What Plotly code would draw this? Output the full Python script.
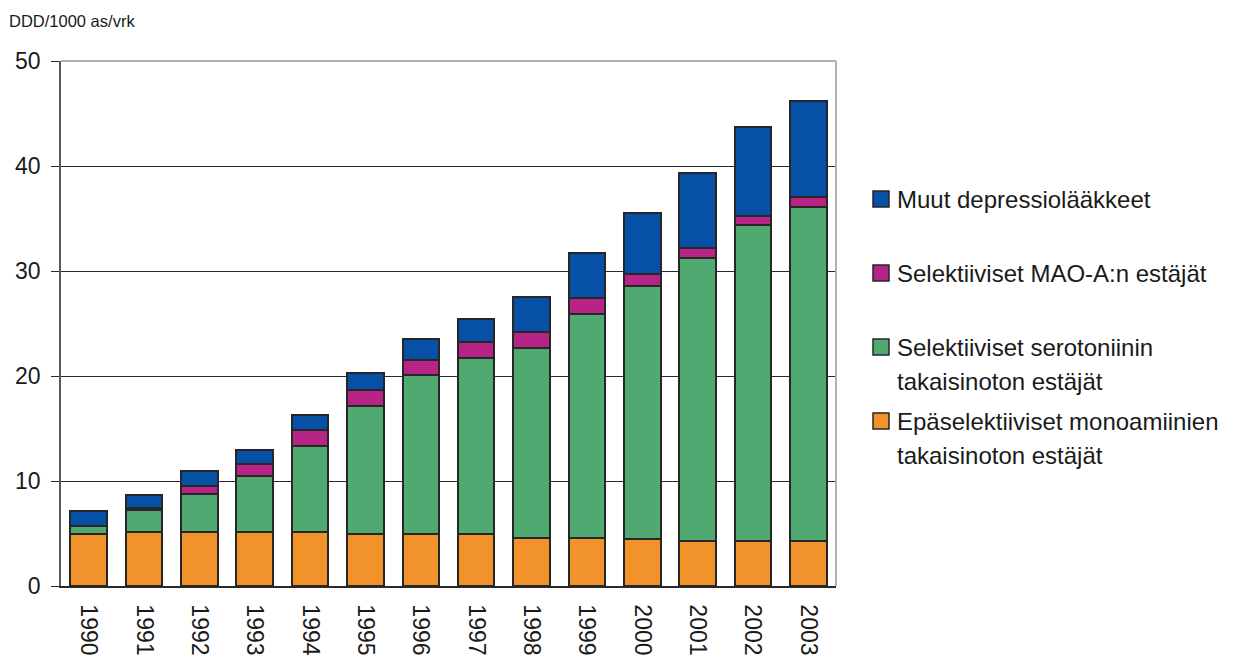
import plotly.graph_objects as go

# DDD/1000 asukasta/vrk, depressiolääkkeiden kulutus 1990–2003
years = ["1990", "1991", "1992", "1993", "1994", "1995", "1996",
         "1997", "1998", "1999", "2000", "2001", "2002", "2003"]

epaselektiiviset = [5.0, 5.15, 5.15, 5.15, 5.15, 5.0, 5.0,
                    4.95, 4.6, 4.55, 4.45, 4.25, 4.25, 4.25]
ssri = [0.7, 2.05, 3.6, 5.3, 8.2, 12.15, 15.05,
        16.8, 18.1, 21.4, 24.15, 27.0, 30.1, 31.85]
mao_a = [0.05, 0.2, 0.8, 1.15, 1.55, 1.55, 1.5,
         1.5, 1.5, 1.5, 1.15, 0.95, 0.9, 0.95]
muut = [1.4, 1.3, 1.4, 1.4, 1.4, 1.6, 1.95,
        2.15, 3.3, 4.25, 5.8, 7.1, 8.45, 9.15]

series_names = [
    ["Epäselektiiviset monoamiinien", "takaisinoton estäjät"],
    ["Selektiiviset serotoniinin", "takaisinoton estäjät"],
    ["Selektiiviset MAO-A:n estäjät"],
    ["Muut depressiolääkkeet"],
]
series_values = [epaselektiiviset, ssri, mao_a, muut]
series_colors = ["#F2922A", "#50A971", "#B82386", "#0651A5"]

y_ticks = [0, 10, 20, 30, 40, 50]

FONT = "Liberation Sans, Arial, sans-serif"
W, H = 1252, 660
L, R, T, B = 61, 836, 61, 586  # plot area in pixels


def px_x(px):
    return (px - L) / (R - L)


def px_y(py):
    return (B - py) / (B - T)


fig = go.Figure()
for names, vals, col in zip(series_names, series_values, series_colors):
    fig.add_trace(go.Bar(
        x=years, y=vals, name=" ".join(names),
        marker=dict(color=col, line=dict(color="#262626", width=2)),
        showlegend=False,
    ))

# top and right frame of the plot area
shapes = [
    dict(type="line", xref="paper", yref="paper", x0=0, x1=1, y0=1, y1=1,
         line=dict(color="#B0B0B0", width=2), layer="above"),
    dict(type="line", xref="paper", yref="paper", x0=1, x1=1, y0=0, y1=1,
         line=dict(color="#B0B0B0", width=2), layer="above"),
]
annotations = [
    dict(text="DDD/1000 as/vrk", xref="paper", yref="paper",
         x=px_x(7), y=px_y(21), xanchor="left", yanchor="middle",
         showarrow=False, font=dict(family=FONT, size=16.5, color="#1a1a1a")),
]

# legend drawn as squares with text, top item = last series
legend_rows = [(3, 199), (2, 273), (1, 347), (0, 421)]
line_step = 34
for idx, cy in legend_rows:
    shapes.append(dict(
        type="rect", xref="paper", yref="paper",
        x0=px_x(873), x1=px_x(889), y0=px_y(cy + 8), y1=px_y(cy - 8),
        fillcolor=series_colors[idx], line=dict(color="#262626", width=1.5),
    ))
    for k, line in enumerate(series_names[idx]):
        annotations.append(dict(
            text=line, xref="paper", yref="paper",
            x=px_x(895), y=px_y(cy + k * line_step),
            xanchor="left", yanchor="middle", showarrow=False,
            font=dict(family=FONT, size=24, color="#1a1a1a"),
        ))

fig.update_layout(
    width=W, height=H,
    margin=dict(l=L, r=W - R, t=T, b=H - B, pad=0),
    paper_bgcolor="white", plot_bgcolor="white",
    barmode="stack", bargap=0.34,
    font=dict(family=FONT, color="#1a1a1a"),
    shapes=shapes, annotations=annotations,
    xaxis=dict(
        type="category", tickangle=90, showgrid=False, automargin=False,
        showline=True, linecolor="#2a2a2a", linewidth=1.5,
        ticks="", tickfont=dict(family=FONT, size=23, color="#1a1a1a"),
        ticklabelstandoff=12,
    ),
    yaxis=dict(
        range=[0, 50], tickvals=y_ticks, ticktext=[str(v) for v in y_ticks],
        automargin=False,
        showgrid=True, gridcolor="#2a2a2a", gridwidth=1,
        showline=True, linecolor="#5a5a5a", linewidth=1.5,
        ticks="outside", ticklen=8, tickcolor="#2a2a2a", tickwidth=1,
        tickfont=dict(family=FONT, size=23, color="#1a1a1a"),
        ticklabelstandoff=6, zeroline=False,
    ),
)

fig.write_html("out.html")
